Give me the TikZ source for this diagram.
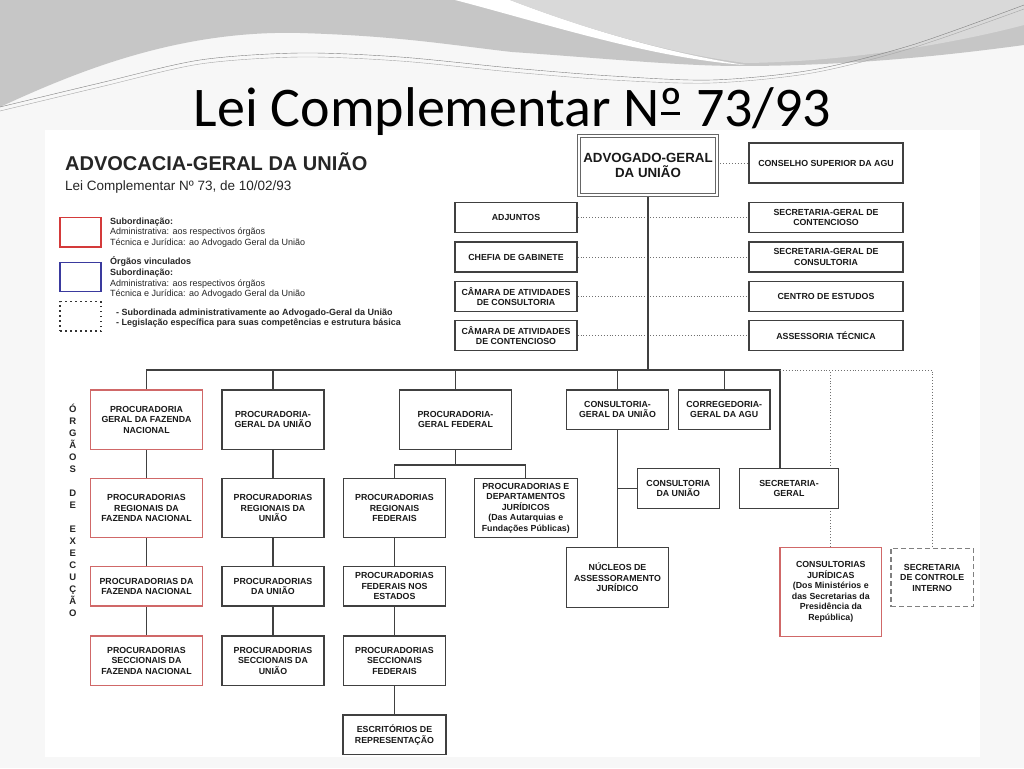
\documentclass[tikz,border=0pt]{standalone}
\usepackage{fontspec}
\setmainfont{Liberation Sans}
\newfontfamily\titlefont{Carlito}
\usepackage{tikz}
\usetikzlibrary{shapes}
\usetikzlibrary{backgrounds}
\usetikzlibrary{calc}
\usepackage{xcolor}
\definecolor{fundo}{HTML}{F7F7F7}
\definecolor{onda}{HTML}{C6C6C6}
\definecolor{ondaclara}{HTML}{D9D9D9}
\definecolor{linha}{HTML}{404040}
\definecolor{vermelho}{HTML}{D06868}
\definecolor{legverm}{HTML}{D43A3A}
\definecolor{legazul}{HTML}{3A3A9E}
\definecolor{pontos}{HTML}{707070}
\tikzset{
  orgao/.style={draw=linha, line width=1.2pt, fill=white, inner sep=1pt, align=center, text=black!90,
    font=\fontsize{8.8}{10.5}\selectfont\bfseries},
  fazenda/.style={orgao, draw=vermelho},
  tam/.style 2 args={minimum width=#1, minimum height=#2},
  liga/.style={draw=linha, line width=1.3pt},
  pont/.style={draw=pontos, dotted, line width=0.9pt},
  leg/.style={anchor=north west, inner sep=0pt, align=left, text=black!85, font=\fontsize{9}{10.7}\selectfont}
}

\begin{document}
\begin{tikzpicture}[x=1pt,y=-1pt]
\useasboundingbox (0,0) rectangle (1024,768);
\begin{scope}[on background layer]
\fill[fundo] (0,0) rectangle (1024,768);
\fill[onda] (0,0) -- (0,107) .. controls (80,70) and (180,30) .. (300,33) .. controls (400,36) and (450,45) .. (512,52)
  .. controls (600,58) and (680,66) .. (740,66) .. controls (850,66) and (950,55) .. (1024,45) -- (1024,0) -- cycle;
\fill[white] (455,0) .. controls (540,22) and (650,58) .. (745,65) .. controls (660,52) and (575,25) .. (510,0) -- cycle;
\fill[ondaclara] (510,0) .. controls (575,25) and (660,52) .. (745,63) .. controls (850,62) and (960,42) .. (1024,25) -- (1024,0) -- cycle;
\draw[gray, line width=0.4pt] plot[smooth] coordinates {(0,107) (100,83) (200,60) (300,53) (400,57) (512,68) (612,76) (712,80) (812,70) (912,45) (1024,5)};
\draw[gray!70, line width=0.4pt] plot[smooth] coordinates {(0,111) (100,87) (200,64) (300,57) (400,61) (512,72) (612,80) (712,83) (812,73) (912,48) (1024,9)};
\fill[white] (45,130) rectangle (980,757);
\end{scope}

\node[anchor=base, inner sep=0pt, font=\titlefont\fontsize{56}{60}\selectfont] (titulo) at (512.5,126) {Lei Complementar N\rlap{\kern0.03em\rule[0.2em]{0.34em}{0.055em}}º 73/93};

\node[anchor=base west, inner sep=0pt, text=black!85, font=\fontsize{20}{24}\selectfont\bfseries] (agutit) at (65,170) {ADVOCACIA-GERAL DA UNIÃO};
\node[anchor=base west, inner sep=0pt, text=black!85, font=\fontsize{13.5}{16}\selectfont] (lei) at (65,190) {Lei Complementar Nº 73, de 10/02/93};

\begin{scope}[tam={41}{29.5}, line width=1.3pt]
\node[draw=legverm] (lverm) at (80.5,232.3) {};
\node[draw=legazul] (lazul) at (80.5,277) {};
\node[draw=black!80, dash pattern=on 1.5pt off 3.5pt] (lpont) at (80.5,316.3) {};
\end{scope}
\node[leg] (tverm) at (110,217.4) {\textbf{Subordinação:}\\Administrativa: aos respectivos órgãos\\Técnica e Jurídica: ao Advogado Geral da União};
\node[leg] (tazul) at (110,256.5) {\textbf{Órgãos vinculados}\\\textbf{Subordinação:}\\Administrativa: aos respectivos órgãos\\Técnica e Jurídica: ao Advogado Geral da União};
\node[leg, font=\fontsize{9}{10.7}\selectfont\bfseries] (tpont) at (116,308.4) {- Subordinada administrativamente ao Advogado-Geral da União\\- Legislação específica para suas competências e estrutura básica};

\foreach \l/\p in {Ó/0,R/1,G/2,Ã/3,O/4,S/5,D/7,E/8,E/10,X/11,E/12,C/13,U/14,Ç/15,Ã/16,O/17}
  \node[anchor=base, inner sep=0pt, text=black!85, font=\fontsize{9.5}{10}\selectfont\bfseries] (v\p) at (72.7,412.3+12*\p) {\l};

\node[orgao, tam={138}{59}, draw=gray!80!black, double=white, double distance=1.4pt, line width=1pt,
  font=\fontsize{13.3}{15}\selectfont\bfseries] (agu) at (648,165.5) {ADVOGADO-GERAL\\DA UNIÃO};
\node[orgao, tam={154}{40}] (csagu) at (826,163) {CONSELHO SUPERIOR DA AGU};
\node[orgao, tam={122}{29.5}] (adj) at (516,217.5) {ADJUNTOS};
\node[orgao, tam={122}{30}] (chefia) at (516,257) {CHEFIA DE GABINETE};
\node[orgao, tam={122}{30}] (camcons) at (516,296.7) {CÂMARA DE ATIVIDADES\\DE CONSULTORIA};
\node[orgao, tam={122}{30}] (camcont) at (516,335.7) {CÂMARA DE ATIVIDADES\\DE CONTENCIOSO};
\node[orgao, tam={154}{29.5}] (sgcont) at (826,217.5) {SECRETARIA-GERAL DE\\CONTENCIOSO};
\node[orgao, tam={154}{30}] (sgcons) at (826,257) {SECRETARIA-GERAL DE\\CONSULTORIA};
\node[orgao, tam={154}{30}] (centro) at (826,296.7) {CENTRO DE ESTUDOS};
\node[orgao, tam={154}{30}] (assess) at (826,335.7) {ASSESSORIA TÉCNICA};

\node[fazenda, tam={112}{59.3}] (pgfn) at (146.5,419.7) {PROCURADORIA\\GERAL DA FAZENDA\\NACIONAL};
\node[orgao, tam={102}{59.3}] (pgu) at (273,419.7) {PROCURADORIA-\\GERAL DA UNIÃO};
\node[orgao, tam={112}{59.3}] (pgf) at (455.5,419.7) {PROCURADORIA-\\GERAL FEDERAL};
\node[orgao, tam={101.6}{39.3}] (cgu) at (617.5,409.7) {CONSULTORIA-\\GERAL DA UNIÃO};
\node[orgao, tam={91.7}{39.3}] (correg) at (724.2,409.7) {CORREGEDORIA-\\GERAL DA AGU};

\node[fazenda, tam={112}{59}] (prfn) at (146.5,508) {PROCURADORIAS\\REGIONAIS DA\\FAZENDA NACIONAL};
\node[orgao, tam={102}{59}] (pru) at (273,508) {PROCURADORIAS\\REGIONAIS DA\\UNIÃO};
\node[orgao, tam={102.4}{59}] (prf) at (394.5,508) {PROCURADORIAS\\REGIONAIS\\FEDERAIS};
\node[orgao, tam={103}{59}] (pdj) at (525.8,508) {PROCURADORIAS E\\DEPARTAMENTOS\\JURÍDICOS\\(Das Autarquias e\\Fundações Públicas)};
\node[orgao, tam={82}{40}] (cu) at (678.3,488.3) {CONSULTORIA\\DA UNIÃO};
\node[orgao, tam={99.4}{40}] (sg) at (789,488.3) {SECRETARIA-\\GERAL};

\node[fazenda, tam={112}{39.3}] (pfn) at (146.5,586.3) {PROCURADORIAS DA\\FAZENDA NACIONAL};
\node[orgao, tam={102}{39.3}] (pu) at (273,586.3) {PROCURADORIAS\\DA UNIÃO};
\node[orgao, tam={102.4}{39.3}] (pfne) at (394.5,586.3) {PROCURADORIAS\\FEDERAIS NOS\\ESTADOS};
\node[orgao, tam={101.6}{60}] (nucleos) at (617.5,577.3) {NÚCLEOS DE\\ASSESSORAMENTO\\JURÍDICO};
\node[fazenda, tam={101.7}{89.4}] (cj) at (830.8,592) {CONSULTORIAS\\JURÍDICAS\\(Dos Ministérios e\\das Secretarias da\\Presidência da\\República)};
\node[orgao, tam={82.3}{58.4}, draw=gray, dash pattern=on 5pt off 3pt] (sci) at (932.2,577.5) {SECRETARIA\\DE CONTROLE\\INTERNO};

\node[fazenda, tam={112}{49.7}] (psfn) at (146.5,660.8) {PROCURADORIAS\\SECCIONAIS DA\\FAZENDA NACIONAL};
\node[orgao, tam={102}{49.7}] (psu) at (273,660.8) {PROCURADORIAS\\SECCIONAIS DA\\UNIÃO};
\node[orgao, tam={102.4}{49.7}] (psf) at (394.5,660.8) {PROCURADORIAS\\SECCIONAIS\\FEDERAIS};
\node[orgao, tam={103}{39.7}] (escr) at (394.5,734.8) {ESCRITÓRIOS DE\\REPRESENTAÇÃO};

\coordinate (busl) at (146.5,370);
\coordinate (busr) at (780,370);
\begin{scope}[on background layer]
\draw[pont] (agu.east |- csagu.west) -- (csagu.west);
\foreach \a/\b in {adj/sgcont,chefia/sgcons,camcons/centro,camcont/assess}
  \draw[pont] (\a.east) -- (\b.west);
\draw[liga] (agu.south) -- (agu.south |- busl);
\draw[liga] (pgfn.north) -- (pgfn.north |- busl) -- (busr) -- (busr |- sg.north);
\foreach \n in {pgu,pgf,cgu,correg}
  \draw[liga] (\n.north) -- (\n.north |- busl);
\draw[pont] (busr) -| (sci.north);
\draw[pont] (cj.north) -- (cj.north |- busr);
\foreach \a/\b in {pgfn/prfn,prfn/pfn,pfn/psfn,pgu/pru,pru/pu,pu/psu,prf/pfne,pfne/psf,psf/escr,cgu/nucleos}
  \draw[liga] (\a.south) -- (\b.north);
\draw[liga] (pgf.south) -- ($(pgf.south)+(0,15)$);
\draw[liga] (prf.north) |- ($(pgf.south)+(0,15)$) -| (pdj.north);
\draw[liga] (cu.west) -- (cu.west -| cgu.south);
\end{scope}
\end{tikzpicture}
\end{document}
